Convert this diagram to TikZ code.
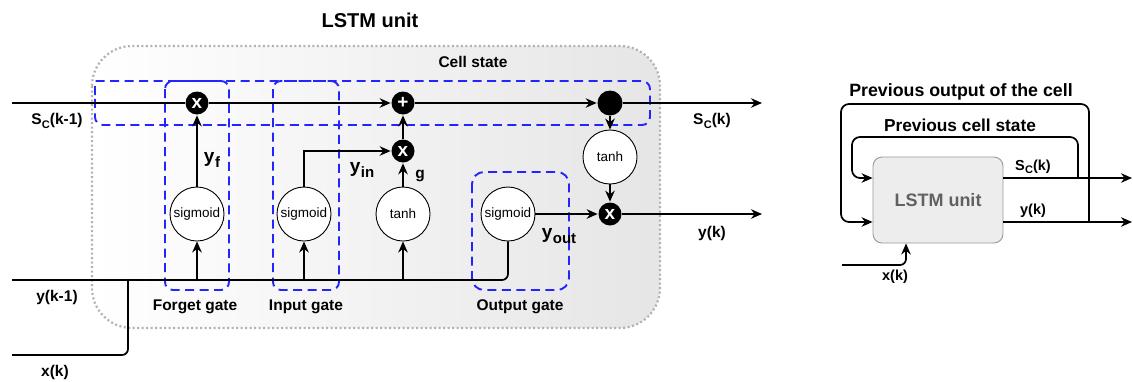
\documentclass[tikz,border=0pt]{standalone}
\usepackage{fontspec}
\setmainfont{Liberation Sans}
\usetikzlibrary{arrows.meta}
\definecolor{gblue}{HTML}{2424FF}
\newcommand{\ScS}{S\kern0.3pt\raisebox{-3.5pt}{\fontsize{11}{11}\selectfont C}}
\newcommand{\ysub}[1]{{\fontsize{19}{19}\selectfont y}\kern0.5pt\raisebox{-5pt}{\fontsize{15}{15}\selectfont #1}}
\begin{document}
\begin{tikzpicture}[x=1pt,y=-1pt,
  line width=1.7pt,
  arr/.style={-{Stealth[length=11pt,width=9.5pt]}},
  mult/.style={circle,fill=black,minimum size=23pt,inner sep=0pt,text=white,font=\bfseries\fontsize{19}{19}\selectfont},
  bigdot/.style={circle,fill=black,minimum size=25pt,inner sep=0pt},
  func/.style={circle,draw,line width=0.9pt,fill=white,minimum size=54pt,inner sep=0pt,font=\fontsize{13.5}{13.5}\selectfont},
  gate/.style={draw=gblue,dash pattern=on 9pt off 5.5pt,line width=1.9pt,rounded corners=8pt},
  lbl/.style={font=\bfseries\fontsize{15.5}{15.5}\selectfont,inner sep=0pt},
  rlbl/.style={font=\bfseries\fontsize{17.3}{17.3}\selectfont,inner sep=0pt},
]
\useasboundingbox (0,0) rectangle (1133,381);

% big unit box
\draw[draw=black!30,line width=2.2pt,dash pattern=on 2pt off 2.5pt,rounded corners=40pt,
      left color=white,right color=black!10] (92,46) rectangle (660,328);
\node[font=\bfseries\fontsize{20}{20}\selectfont] (title) at (370,20) {LSTM unit};
\node[lbl] (cslbl) at (473,62) {Cell state};

% gate boxes
\draw[gate] (95,103) [sharp corners] -- (95,81) [rounded corners=8pt] -- (650,81) -- (650,125) -- (95,125) -- cycle;
\draw[gate] (165,81) rectangle (229,290);
\draw[gate] (273,81) rectangle (339,290);
\draw[gate,rounded corners=12pt] (472,172) rectangle (569,290);

% nodes
\node[mult] (fx) at (197,103) {x};
\node[mult] (plus) at (403,103) {+};
\node[bigdot] (dot) at (610,103) {};
\node[mult] (ix) at (403,151) {x};
\node[func] (fs) at (197,214) {sigmoid};
\node[func] (is) at (304,214) {sigmoid};
\node[func] (tg) at (403,214) {tanh};
\node[func] (os) at (508,214) {sigmoid};
\node[func] (th) at (610,157) {tanh};
\node[mult] (ox) at (610,214) {x};

\coordinate (cin) at (12,103);
\coordinate (cout) at (762,103);
\coordinate (yout) at (762,214);
\coordinate (yin) at (12,280);
\coordinate (xin) at (12,355);
\coordinate (xup) at (128,280);
\coordinate (bf) at (197,280);
\coordinate (bi) at (304,280);
\coordinate (bt) at (403,280);

% connectors
\draw (cin) -- (fx);
\draw[arr] (fx) -- (plus);
\draw[arr] (plus) -- (dot);
\draw[arr] (dot) -- (cout);
\draw[arr] (fs) -- (fx);
\draw[arr] (is.north) |- (ix);
\draw[arr] (tg) -- (ix);
\draw[arr] (ix) -- (plus);
\draw[arr] (dot) -- (th);
\draw[arr] (th) -- (ox);
\draw[arr] (os) -- (ox);
\draw[arr] (ox) -- (yout);
\draw[rounded corners=6pt] (yin) -- (os.south |- yin) -- (os.south);
\draw[rounded corners=6pt] (xin) -- (xin -| xup) -- (xup);
\draw[arr] (bf) -- (fs);
\draw[arr] (bi) -- (is);
\draw[arr] (bt) -- (tg);

% labels
\node[lbl] (l1) at (57,121) {\ScS(k-1)};
\node[lbl] (l2) at (712,121) {\ScS(k)};
\node[lbl] (l3) at (712,233) {y(k)};
\node[lbl] (l4) at (57,297) {y(k-1)};
\node[lbl] (l5) at (55,372) {x(k)};
\node[lbl] (l6) at (195,307) {Forget gate};
\node[lbl] (l7) at (306,307) {Input gate};
\node[lbl] (l8) at (520,307) {Output gate};
\node[lbl,font=\bfseries] (yf) at (212,160) {\ysub{f}};
\node[lbl,font=\bfseries] (yi) at (362,170) {\ysub{in}};
\node[lbl] (gg) at (420,176) {g};
\node[lbl,font=\bfseries] (yo) at (559,236) {\ysub{out}};

% right diagram
\node[draw=black!40,line width=0.9pt,fill=black!7,rounded corners=9pt,minimum width=130pt,minimum height=86pt,
      text=black!62,font=\bfseries\fontsize{18}{18}\selectfont] (unit) at (938,200) {LSTM unit};
\coordinate (rs) at (1132,178);
\coordinate (ry) at (1132,222);
\coordinate (cl) at (1078,178);
\coordinate (yl) at (1089,222);
\coordinate (rx) at (842,265);
\coordinate (rxu) at (906,265);
\draw[arr] (unit.east |- rs) -- (rs);
\draw[arr] (unit.east |- ry) -- (ry);
\draw[arr,rounded corners=8pt] (cl) -- (1078,137) -- (852,137) -- (852,178) -- (unit.west |- cl);
\draw[arr,rounded corners=8pt] (yl) -- (1089,104) -- (841,104) -- (841,222) -- (unit.west |- yl);
\draw[arr,rounded corners=6pt] (rx) -- (rxu) -- (rxu |- unit.south);
\node[rlbl,font=\bfseries\fontsize{14.5}{14.5}\selectfont] (r1) at (1033,167) {\ScS(k)};
\node[rlbl,font=\bfseries\fontsize{14.5}{14.5}\selectfont] (r2) at (1033,211) {y(k)};
\node[rlbl,font=\bfseries\fontsize{14.5}{14.5}\selectfont] (r3) at (895,277) {x(k)};
\node[rlbl,font=\bfseries\fontsize{17.8}{17.8}\selectfont] (r4) at (961,92) {Previous output of the cell};
\node[rlbl] (r5) at (960,125) {Previous cell state};
\end{tikzpicture}
\end{document}
